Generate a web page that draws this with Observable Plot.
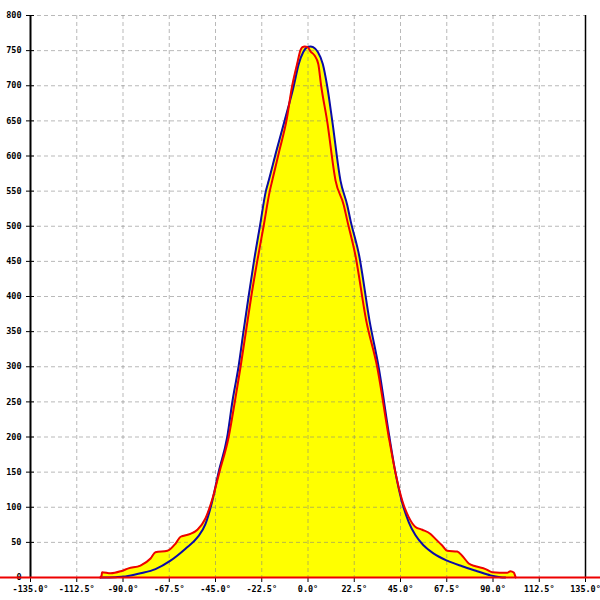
<!DOCTYPE html>
<html><head><meta charset="utf-8">
<script src="https://cdn.jsdelivr.net/npm/d3@7"></script>
<script src="https://cdn.jsdelivr.net/npm/@observablehq/plot@0.6"></script>
<style>body{margin:0;background:#fff} svg{display:block}</style>
</head><body><div id="chart"></div>
<script>
const xTicks = [-135, -112.5, -90, -67.5, -45, -22.5, 0, 22.5, 45, 67.5, 90, 112.5, 135];
const yTicks = [0, 50, 100, 150, 200, 250, 300, 350, 400, 450, 500, 550, 600, 650, 700, 750, 800];

const redDeg = [-101, -100.4, -100.2, -96, -91, -87.3, -81.5, -76.6, -74.2, -68.4, -64.5, -62, -57.2, -53.8, -49.9, -46.5, -43.1, -38.6, -35.6, -32.8, -30.2, -27.6, -24.7, -21.6, -18.6, -17.4, -13.9, -10.5, -7.7, -5.3, -3.6, -2.7, -1.6, -0.2, 1.2, 3.2, 5.0, 6.4, 9.3, 13.4, 17.4, 19.1, 23.1, 28.3, 33.7, 39.3, 42.5, 45.8, 49.0, 52.3, 55.6, 59.6, 62.0, 65.3, 67.7, 72.6, 75.0, 78.2, 81.5, 86.4, 89.6, 96.9, 98.5, 100.1, 100.7, 101];
const redVal = [0, 3, 7.5, 6, 9, 13, 17, 27, 36, 38, 48, 58, 62, 68, 84, 112, 150, 200, 250, 300, 350, 400, 450, 500, 550, 565, 608, 650, 700, 731, 751, 755, 756, 755, 749, 743, 731, 700, 650, 565, 530, 508, 458, 366, 299, 200, 150, 110, 86, 72, 68, 62, 55, 45.5, 38, 37, 31, 20, 16, 12, 7.5, 6.7, 9, 7, 3, 0];

const blueDeg = [-101, -93.6, -88.8, -81.5, -74.2, -66.9, -59.6, -53.8, -49.9, -46.8, -43.5, -39.3, -36.7, -33.8, -31.4, -28.9, -26.3, -23.4, -20.5, -19.1, -15.3, -11.4, -6.9, -4.5, -2.3, -0.4, 1.2, 2.5, 4.8, 7.2, 9.3, 11.8, 15.8, 19.1, 20.7, 24.9, 29.9, 34.4, 39.6, 42.5, 45.5, 49.0, 52.3, 56.3, 61.2, 67.7, 75.0, 82.3, 88.8, 93.6, 96];
const blueVal = [0, 0.5, 1.4, 6, 12, 24, 41, 57, 76, 106, 150, 200, 252, 300, 350, 400, 450, 500, 550, 565, 608, 650, 700, 731, 748, 755, 756, 755, 748, 731, 700, 650, 565, 530, 508, 458, 366, 299, 200, 150, 110, 79, 60, 45.5, 34, 24, 16, 9, 3, 0.5, 0];

const red = redDeg.map((x, i) => ({x, y: redVal[i]}));
const blue = blueDeg.map((x, i) => ({x, y: blueVal[i]}));

const chart = Plot.plot({
  width: 600, height: 600,
  marginLeft: 30, marginRight: 15, marginTop: 15, marginBottom: 23,
  style: {fontFamily: "DejaVu Sans Mono", fontSize: "8.5px", fontWeight: "bold", background: "#fff", color: "#000"},
  x: {domain: [-135, 135]},
  y: {domain: [0, 800]},
  marks: [
    Plot.areaY(red, {x: "x", y: "y", fill: "#ffff00", curve: "monotone-x"}),
    Plot.areaY(blue, {x: "x", y: "y", fill: "#ffff00", curve: "monotone-x"}),
    Plot.gridX(xTicks, {stroke: "#808080", strokeOpacity: 0.55, strokeDasharray: "4,3"}),
    Plot.gridY(yTicks, {stroke: "#808080", strokeOpacity: 0.55, strokeDasharray: "4,3"}),
    Plot.ruleX([-135], {stroke: "#000", strokeWidth: 2}),
    Plot.ruleX([135], {stroke: "#000", strokeWidth: 1.5}),
    Plot.axisX(xTicks, {tickSize: 5, tickPadding: 3, tickFormat: d => d.toFixed(1) + "°", label: null}),
    Plot.axisY(yTicks, {tickSize: 4, tickPadding: 5, tickFormat: d => String(d), label: null}),
    Plot.axisY(yTicks, {tickSize: -4, tickFormat: () => "", label: null}),
    Plot.line(blue, {x: "x", y: "y", stroke: "#0a0aa8", strokeWidth: 2, curve: "monotone-x"}),
    Plot.line(red, {x: "x", y: "y", stroke: "#ee0000", strokeWidth: 2, curve: "monotone-x"}),
    Plot.ruleY([0], {stroke: "#ee0000", strokeWidth: 2, insetLeft: -30, insetRight: -15})
  ]
});
document.getElementById("chart").appendChild(chart);
</script>
</body></html>
